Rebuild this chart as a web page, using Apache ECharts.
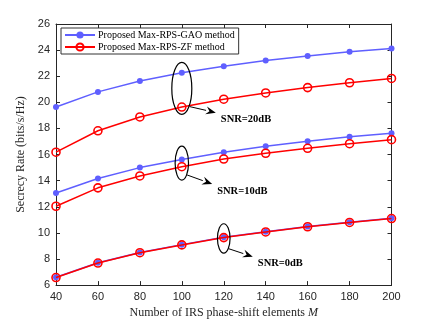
<!DOCTYPE html>
<html><head><meta charset="utf-8">
<script src="https://cdn.jsdelivr.net/npm/echarts@6/dist/echarts.min.js"></script>
<style>html,body{margin:0;padding:0;background:#fff}#c{width:432px;height:324px}</style>
</head><body><div id="c"></div>
<script>
const M = [40, 60, 80, 100, 120, 140, 160, 180, 200];
const gao20 = [19.64, 20.8, 21.63, 22.26, 22.77, 23.2, 23.55, 23.88, 24.13];
const zf20  = [16.18, 17.82, 18.88, 19.64, 20.24, 20.72, 21.13, 21.5, 21.83];
const gao10 = [13.05, 14.16, 15.0, 15.62, 16.18, 16.63, 17.01, 17.36, 17.64];
const zf10  = [12.04, 13.45, 14.36, 15.07, 15.66, 16.1, 16.48, 16.83, 17.14];
const gao0  = [6.6, 7.71, 8.5, 9.1, 9.66, 10.09, 10.48, 10.82, 11.12];
const zf0   = [6.58, 7.69, 8.48, 9.08, 9.64, 10.07, 10.47, 10.8, 11.1];
const legendNames = ['Proposed Max-RPS-GAO method', 'Proposed Max-RPS-ZF method'];
const snrLabels = ['SNR=20dB', 'SNR=10dB', 'SNR=0dB'];

const BLUE = '#5f5fff', RED = '#ff0000';
const serif = '"Liberation Serif","DejaVu Serif",serif';
const sans = '"Liberation Sans",Arial,sans-serif';
const pair = a => a.map((v, i) => [M[i], v]);
function gSeries(name, d) {
  return { name, type: 'line', data: pair(d), symbol: 'circle', symbolSize: 6,
    lineStyle: { color: BLUE, width: 1.5 }, itemStyle: { color: BLUE }, z: 2, animation: false };
}
function zSeries(name, d) {
  return { name, type: 'line', data: pair(d), symbol: 'circle', symbolSize: 8,
    lineStyle: { color: RED, width: 1.5 }, itemStyle: { color: 'rgba(255,255,255,0)', borderWidth: 1.6, borderColor: RED }, z: 3, animation: false };
}
const chart = echarts.init(document.getElementById('c'), null, { renderer: 'canvas' });
const axisCommon = {
  axisLine: { show: true, onZero: false, lineStyle: { color: '#262626', width: 1 } },
  axisTick: { show: true, inside: true, length: 4, lineStyle: { color: '#262626' } },
  splitLine: { show: false },
};
chart.setOption({
  animation: false,
  backgroundColor: '#fff',
  grid: { left: 56, right: 40.5, top: 24, bottom: 36, show: false },
  legend: {
    data: legendNames, orient: 'vertical', left: 61, top: 28, itemGap: 2,
    itemWidth: 30, itemHeight: 9, padding: [2, 4, 2, 3],
    borderColor: '#333', borderWidth: 1, backgroundColor: '#fff',
    textStyle: { fontFamily: serif, fontSize: 10, color: '#000', padding: [0, 0, 0, -2] }
  },
  xAxis: [
    Object.assign({ type: 'value', min: 40, max: 200, interval: 20, position: 'bottom',
      axisLabel: { fontFamily: sans, fontSize: 11, color: '#262626', margin: 6 },
      name: 'Number of IRS phase-shift elements {i|M}', nameLocation: 'middle', nameGap: 21,
      nameTextStyle: { fontFamily: serif, fontSize: 12, color: '#262626',
        rich: { i: { fontFamily: serif, fontStyle: 'italic', fontSize: 12, color: '#262626' } } }
    }, axisCommon),
    Object.assign({ type: 'value', min: 40, max: 200, interval: 20, position: 'top', axisLabel: { show: false } }, axisCommon)
  ],
  yAxis: [
    Object.assign({ type: 'value', min: 6, max: 26, interval: 2, position: 'left',
      axisLabel: { fontFamily: sans, fontSize: 11, color: '#262626', margin: 6 },
      name: 'Secrecy Rate (bits/s/Hz)', nameLocation: 'middle', nameGap: 19,
      nameTextStyle: { fontFamily: serif, fontSize: 12, color: '#262626' }
    }, axisCommon),
    Object.assign({ type: 'value', min: 6, max: 26, interval: 2, position: 'right', axisLabel: { show: false } }, axisCommon)
  ],
  series: [
    gSeries(legendNames[0], gao20), zSeries(legendNames[1], zf20),
    gSeries(legendNames[0], gao10), zSeries(legendNames[1], zf10),
    gSeries(legendNames[0], gao0), zSeries(legendNames[1], zf0)
  ]
});

// annotations: ellipse around the two points at index i, arrow, label
function annot(i, gArr, zArr, rx, ry, off, dx, dy, text) {
  const p1 = chart.convertToPixel({ xAxisIndex: 0, yAxisIndex: 0 }, [M[i], gArr[i]]);
  const p2 = chart.convertToPixel({ xAxisIndex: 0, yAxisIndex: 0 }, [M[i], zArr[i]]);
  const cx = p1[0], cy = (p1[1] + p2[1]) / 2 + off;
  const sx = cx + rx * 0.8, sy = cy + ry * 0.7;
  const ex = sx + dx, ey = sy + dy;
  const ang = Math.atan2(ey - sy, ex - sx);
  const L = 10, W = 4;
  const hx = ex - L * Math.cos(ang), hy = ey - L * Math.sin(ang);
  const nx = -Math.sin(ang) * W, ny = Math.cos(ang) * W;
  return [
    { type: 'ellipse', shape: { cx, cy, rx, ry }, style: { fill: null, stroke: '#000', lineWidth: 1.2 }, z: 10 },
    { type: 'line', shape: { x1: sx, y1: sy, x2: hx, y2: hy }, style: { stroke: '#000', lineWidth: 1 }, z: 10 },
    { type: 'polygon', shape: { points: [[ex, ey], [hx + nx, hy + ny], [hx + 0.35 * L * Math.cos(ang), hy + 0.35 * L * Math.sin(ang)], [hx - nx, hy - ny]] }, style: { fill: '#000' }, z: 10 },
    { type: 'text', x: ex + 5, y: ey + 7, style: { text, fontFamily: serif, fontWeight: 'bold', fontSize: 10.5, fill: '#000', verticalAlign: 'middle' }, z: 10 }
  ];
}
chart.setOption({
  graphic: [].concat(
    annot(3, gao20, zf20, 10, 26, -1.5, 26, 6, snrLabels[0]),
    annot(3, gao10, zf10, 6.7, 17, 0, 25, 9, snrLabels[1]),
    annot(4, gao0, zf0, 6.3, 14.7, 1, 24, 8, snrLabels[2])
  )
});
</script></body></html>
